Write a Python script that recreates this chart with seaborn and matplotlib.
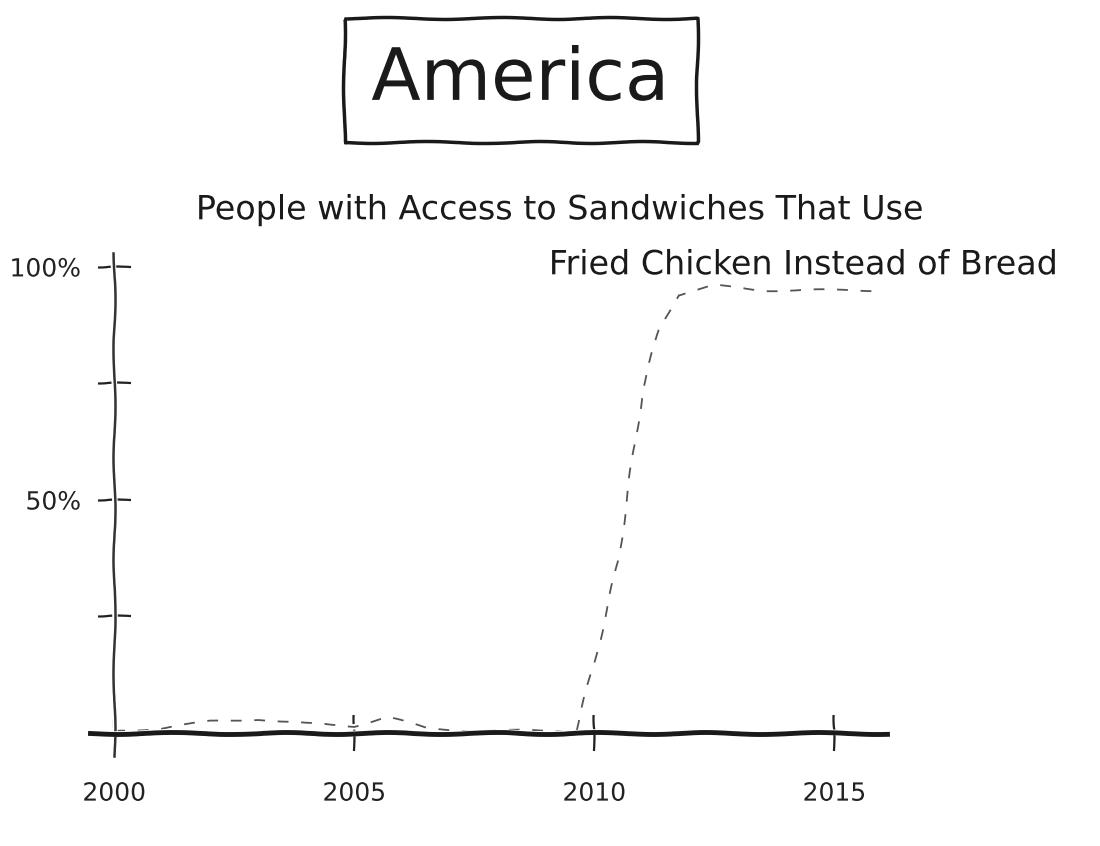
import numpy as np
import pandas as pd
import seaborn as sns
import matplotlib.pyplot as plt

# values (percent of people)
years = [2000, 2001, 2002, 2003, 2004, 2005, 2005.7, 2006.5, 2007.5, 2008.5, 2009.3,
         2009.6, 2010.0, 2010.5, 2010.8, 2011.0, 2011.35, 2011.75, 2012.5, 2013.5, 2014.5, 2016.0]
access = [0.5, 1.0, 2.5, 3.0, 2.0, 1.5, 3.5, 1.0, 0.5, 0.5, 0.5,
          0.0, 15, 37, 59, 73, 87, 94, 96, 95, 95, 95]
xtick_years = [2000, 2005, 2010, 2015]
xtick_labels = ['2000', '2005', '2010', '2015']
ytick_vals = [25, 50, 75, 100]
ytick_labels = ['', '50%', '', '100%']

df = pd.DataFrame({'Year': years, 'Access': access})

sns.set_style('white')
plt.xkcd(scale=1, length=120, randomness=2)
plt.rcParams['font.family'] = ['DejaVu Sans']

fig = plt.figure(figsize=(11, 8.46), dpi=100)
ax = fig.add_axes([0.082, 0.106, 0.7245, 0.595])

sns.lineplot(x='Year', y='Access', data=df, ax=ax, color='#555555',
             linewidth=1.3, linestyle=(0, (6, 7)))

ax.set_xlim(1999.5, 2016.1)
ax.set_ylim(-5, 103)
ax.spines['top'].set_visible(False)
ax.spines['right'].set_visible(False)
ax.spines['left'].set_position(('data', 2000))
ax.spines['bottom'].set_position(('data', 0))
ax.spines['bottom'].set_linewidth(3.5)
ax.spines['bottom'].set_color('#1a1a1a')
ax.spines['left'].set_linewidth(1.8)
ax.spines['left'].set_color('#333333')

ax.set_xticks(xtick_years)
ax.set_xticklabels(xtick_labels)
ax.set_yticks(ytick_vals)
ax.set_yticklabels(ytick_labels)
# seaborn's white style hides tick marks, turn them back on
ax.tick_params(axis='x', bottom=True, direction='inout', length=26, width=1.6, pad=22,
               labelsize=18, colors='#222222')
ax.tick_params(axis='y', left=True, direction='inout', length=24, width=1.6, pad=12,
               labelsize=18, colors='#222222')
ax.set_xlabel('')
ax.set_ylabel('')

#title box
fig.text(0.473, 0.905, 'America', fontsize=52, ha='center', va='center', color='#1a1a1a',
         bbox=dict(boxstyle='square,pad=0.38', facecolor='white', edgecolor='#1a1a1a', linewidth=2.5))

#subtitle, two lines like the drawing
fig.text(0.509, 0.752, 'People with Access to Sandwiches That Use', fontsize=24,
         ha='center', va='center', color='#1a1a1a')
fig.text(0.962, 0.687, 'Fried Chicken Instead of Bread', fontsize=24,
         ha='right', va='center', color='#1a1a1a')

fig.savefig('out.png', dpi=100, facecolor='white')
